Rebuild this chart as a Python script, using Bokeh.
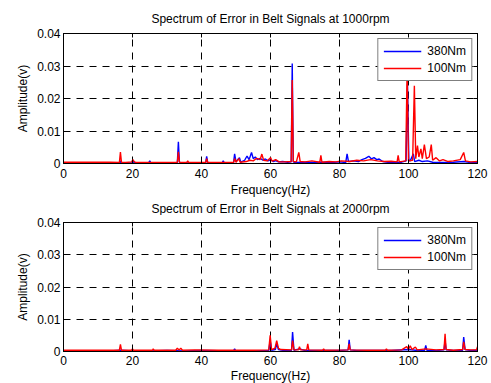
from bokeh.plotting import figure
from bokeh.models import (ColumnDataSource, FixedTicker, LinearAxis, Legend,
                          LegendItem, Range1d, CustomLabelingPolicy, Title)
from bokeh.layouts import column
from bokeh.embed import file_html
from bokeh.resources import INLINE

# ---------------- data ----------------
titles = ["Spectrum of Error in Belt Signals at 1000rpm",
          "Spectrum of Error in Belt Signals at 2000rpm"]
series_names = ["380Nm", "100Nm"]
x_ticks = [0, 20, 40, 60, 80, 100, 120]
y_ticks = [0, 0.01, 0.02, 0.03, 0.04]
y_tick_labels = ["0", "0.01", "0.02", "0.03", "0.04"]

# 1000 rpm, 380Nm
f_1000_380 = [13.5, 16.3, 16.5, 16.8, 20, 20.3, 20.6, 24.7, 25, 25.3, 33, 33.3, 33.6, 34,
              41.2, 41.5, 41.8, 46, 46.3, 46.6, 49.3, 49.6, 50, 50.5, 51, 51.4, 52.5, 53.2,
              53.8, 54.5, 55, 55.6, 56.2, 57, 57.8, 58.5, 59.3, 60, 60.8, 61.5, 62.3, 63.5,
              65, 66, 66.3, 66.6, 67.2, 70, 72, 75, 78, 80, 81.8, 82.2, 82.6, 84, 85.5, 86.5,
              87.5, 88.5, 89.3, 90, 90.8, 91.5, 92.5, 94, 96, 98, 99.3, 99.7, 100.1, 100.5,
              101.4, 101.8, 103, 104, 105.5, 107, 110, 113, 116, 118, 120]
a_1000_380 = [0.0002, 0.0002, 0.0008, 0.0002, 0.0002, 0.0006, 0.0002, 0.0002, 0.0008, 0.0002,
              0.0003, 0.0067, 0.0004, 0.0002, 0.0002, 0.0022, 0.0003, 0.0002, 0.0008, 0.0002,
              0.0003, 0.0030, 0.0005, 0.0012, 0.0018, 0.0004, 0.0010, 0.0023, 0.0012, 0.0034,
              0.0015, 0.0020, 0.0012, 0.0016, 0.0010, 0.0014, 0.0008, 0.0012, 0.0006, 0.0009,
              0.0005, 0.0006, 0.0004, 0.0005, 0.0308, 0.0005, 0.0003, 0.0004, 0.0003, 0.0004,
              0.0003, 0.0005, 0.0003, 0.0030, 0.0006, 0.0008, 0.0006, 0.0012, 0.0016, 0.0022,
              0.0014, 0.0018, 0.0012, 0.0014, 0.0006, 0.0004, 0.0003, 0.0004, 0.0008, 0.0244,
              0.0010, 0.0008, 0.0030, 0.0006, 0.0010, 0.0006, 0.0008, 0.0004, 0.0003, 0.0004,
              0.0006, 0.0003, 0.0003]

# 1000 rpm, 100Nm
f_1000_100 = [0, 13.5, 16.2, 16.5, 16.8, 18, 19.8, 20.1, 20.5, 21, 24, 30, 33, 33.3, 33.6,
              35.7, 36, 36.3, 41.2, 41.5, 41.8, 45, 49.3, 49.6, 50, 50.8, 51.2, 53, 54, 55,
              56, 57, 57.5, 58, 59, 60, 60.5, 61.5, 62.5, 64, 66, 66.3, 66.6, 67.5, 68.2,
              68.6, 70, 72, 74.3, 74.6, 74.9, 77, 79, 80.5, 83, 85, 87, 89, 91, 93, 95, 96.7,
              97, 97.3, 99.2, 99.6, 100, 101.2, 101.7, 102.1, 102.6, 103, 103.6, 104, 104.6,
              105.2, 106, 106.6, 107, 108, 109, 110, 111.5, 113, 115, 116, 116.5, 118, 120]
a_1000_100 = [0.0004, 0.0004, 0.0003, 0.0035, 0.0004, 0.0003, 0.0005, 0.0012, 0.0006, 0.0003,
              0.0003, 0.0003, 0.0004, 0.0036, 0.0004, 0.0003, 0.0008, 0.0003, 0.0003, 0.0015,
              0.0003, 0.0003, 0.0003, 0.0015, 0.0004, 0.0015, 0.0004, 0.0006, 0.0010, 0.0008,
              0.0016, 0.0012, 0.0029, 0.0010, 0.0008, 0.0018, 0.0007, 0.0012, 0.0005, 0.0005,
              0.0006, 0.0257, 0.0006, 0.0005, 0.0034, 0.0006, 0.0005, 0.0008, 0.0004, 0.0025,
              0.0004, 0.0006, 0.0005, 0.0008, 0.0006, 0.0010, 0.0008, 0.0012, 0.0008, 0.0006,
              0.0007, 0.0005, 0.0025, 0.0005, 0.0008, 0.0290, 0.0008, 0.0010, 0.0239, 0.0015,
              0.0055, 0.0020, 0.0045, 0.0015, 0.0058, 0.0015, 0.0020, 0.0058, 0.0010, 0.0018,
              0.0008, 0.0012, 0.0006, 0.0008, 0.0012, 0.0034, 0.0008, 0.0005, 0.0006]

# 2000 rpm, 380Nm
f_2000_380 = [13.5, 16.5, 20, 25, 30, 35, 40, 49.3, 49.6, 49.9, 55, 59.5, 59.9, 60.3, 61.4,
              61.8, 62.3, 64, 66.1, 66.4, 66.8, 68.4, 70, 75, 80, 82.5, 82.8, 83.1, 85, 90,
              95, 100, 102, 104.7, 105, 105.3, 108, 110.3, 110.6, 110.9, 113, 115.7, 116,
              116.4, 118, 120]
a_2000_380 = [0.0002, 0.0004, 0.0002, 0.0002, 0.0003, 0.0002, 0.0003, 0.0002, 0.0008, 0.0002,
              0.0002, 0.0003, 0.0034, 0.0004, 0.0006, 0.0024, 0.0006, 0.0003, 0.0004, 0.0060,
              0.0004, 0.0008, 0.0003, 0.0003, 0.0003, 0.0005, 0.0036, 0.0005, 0.0003, 0.0003,
              0.0003, 0.0006, 0.0004, 0.0004, 0.0019, 0.0004, 0.0003, 0.0005, 0.0035, 0.0005,
              0.0003, 0.0004, 0.0045, 0.0006, 0.0003, 0.0004]

# 2000 rpm, 100Nm
f_2000_100 = [0, 13.5, 16.2, 16.5, 16.8, 19.7, 20, 20.3, 25.8, 26, 26.3, 32.5, 33, 33.5, 34,
              34.5, 38, 45, 55, 59.5, 59.9, 60.3, 61.3, 61.8, 62.3, 63, 66.1, 66.4, 66.8,
              68.1, 68.4, 68.7, 70.5, 70.8, 71.1, 75.1, 75.4, 75.7, 82.5, 82.8, 83.1, 88,
              93.3, 93.6, 93.9, 98, 99.5, 100, 100.5, 101, 102, 102.5, 105, 108, 110.3, 110.6,
              110.9, 113, 115.7, 116, 116.4, 118, 119.7, 120]
a_2000_100 = [0.0004, 0.0004, 0.0004, 0.0022, 0.0004, 0.0004, 0.0008, 0.0004, 0.0004, 0.0008,
              0.0004, 0.0004, 0.0010, 0.0005, 0.0010, 0.0004, 0.0005, 0.0004, 0.0004, 0.0005,
              0.0050, 0.0006, 0.0010, 0.0034, 0.0010, 0.0006, 0.0005, 0.0034, 0.0005, 0.0005,
              0.0015, 0.0005, 0.0005, 0.0024, 0.0005, 0.0004, 0.0008, 0.0004, 0.0005, 0.0024,
              0.0005, 0.0004, 0.0004, 0.0008, 0.0004, 0.0005, 0.0015, 0.0006, 0.0018, 0.0006,
              0.0014, 0.0005, 0.0008, 0.0005, 0.0006, 0.0055, 0.0006, 0.0004, 0.0006, 0.0030,
              0.0006, 0.0005, 0.0005, 0.0015]

FONT = "Liberation Sans"
FS = "12px"

NO_LABELS = CustomLabelingPolicy(code="""
    for (const i of indices) indices.unset(i)
    return indices
""")


def style_title(t, standoff):
    t.text_font = FONT
    t.text_font_size = FS
    t.text_font_style = "normal"
    t.text_color = "black"
    t.align = "center"
    t.standoff = standoff


def style_axis(ax, fs=FS):
    ax.axis_line_color = "black"
    ax.axis_line_width = 1
    ax.major_tick_in = 4
    ax.major_tick_out = 0
    ax.minor_tick_in = 0
    ax.minor_tick_out = 0
    ax.major_tick_line_color = "black"
    ax.major_label_text_font = FONT
    ax.major_label_text_font_size = fs
    ax.major_label_text_color = "black"
    ax.major_label_standoff = 3
    ax.axis_label_text_font = FONT
    ax.axis_label_text_font_size = FS
    ax.axis_label_text_font_style = "normal"
    ax.axis_label_text_color = "black"
    ax.axis_label_standoff = 4


def make_plot(f380, a380, f100, a100, border_top, border_bottom, frame_h,
              tick_standoff, label_standoff):
    p = figure(frame_width=414, frame_height=frame_h,
               x_range=Range1d(0, 120), y_range=Range1d(0, 0.04),
               output_backend="svg", toolbar_location=None,
               min_border_left=63, min_border_right=14,
               min_border_top=border_top, min_border_bottom=border_bottom)

    p.background_fill_color = "white"
    p.border_fill_color = "white"
    p.outline_line_color = "black"

    src380 = ColumnDataSource(dict(f=f380, a=a380))
    src100 = ColumnDataSource(dict(f=f100, a=a100))
    r1 = p.line("f", "a", source=src380, line_color="#0000ff", line_width=1.4)
    r2 = p.line("f", "a", source=src100, line_color="#ff0000", line_width=1.4)

    for ax in p.xaxis:
        style_axis(ax)
        ax.ticker = FixedTicker(ticks=x_ticks)
        ax.major_label_standoff = tick_standoff
        ax.axis_label_standoff = label_standoff
        ax.axis_label = "Frequency(Hz)"
    for ax in p.yaxis:
        style_axis(ax)
        ax.ticker = FixedTicker(ticks=y_ticks)
        ax.major_label_overrides = {t: l for t, l in zip(y_ticks, y_tick_labels)}
        ax.axis_label = "Amplitude(v)"

    top_ax = LinearAxis(major_label_policy=NO_LABELS)
    style_axis(top_ax, fs="0px")
    top_ax.ticker = FixedTicker(ticks=x_ticks)
    top_ax.major_label_standoff = 0
    p.add_layout(top_ax, "above")
    right_ax = LinearAxis(major_label_policy=NO_LABELS)
    style_axis(right_ax, fs="0px")
    right_ax.ticker = FixedTicker(ticks=y_ticks)
    right_ax.major_label_standoff = 0
    p.add_layout(right_ax, "right")

    for g in (p.xgrid, p.ygrid):
        g.grid_line_color = "black"
        g.grid_line_dash = "7 6"
        g.grid_line_width = 1
    p.xgrid.ticker = FixedTicker(ticks=x_ticks)
    p.ygrid.ticker = FixedTicker(ticks=y_ticks)

    legend = Legend(items=[LegendItem(label=series_names[0], renderers=[r1]),
                           LegendItem(label=series_names[1], renderers=[r2])],
                    location="top_right")
    legend.margin = 5
    legend.padding = 5
    legend.spacing = 3
    legend.glyph_width = 38
    legend.glyph_height = 14
    legend.label_height = 14
    legend.label_standoff = 6
    legend.label_text_font = FONT
    legend.label_text_font_size = FS
    legend.label_text_color = "black"
    legend.border_line_color = "black"
    legend.border_line_width = 1
    legend.background_fill_color = "white"
    legend.background_fill_alpha = 1
    p.add_layout(legend)
    return p


p1 = make_plot(f_1000_380, a_1000_380, f_1000_100, a_1000_100, 33, 40, 130, 5, 2)
t1 = Title(text=titles[0])
style_title(t1, 16)
p1.add_layout(t1, "above")
# title of the lower panel, placed in the upper figure's bottom border
t2 = Title(text=titles[1])
style_title(t2, 0)
p1.add_layout(t2, "below")

p2 = make_plot(f_2000_380, a_2000_380, f_2000_100, a_2000_100, 7, 30, 129, 4, 1)

layout = column(p1, p2, spacing=0)
open("out.html", "w").write(file_html(layout, INLINE))
